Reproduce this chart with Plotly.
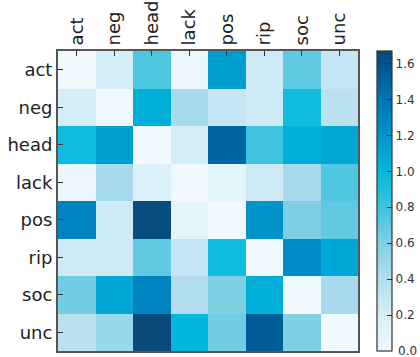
import plotly.graph_objects as go

labels = ["act", "neg", "head", "lack", "pos", "rip", "soc", "unc"]

row_act  = [0.00, 0.20, 0.75, 0.03, 1.15, 0.25, 0.70, 0.30]
row_neg  = [0.20, 0.00, 1.05, 0.45, 0.30, 0.25, 0.95, 0.35]
row_head = [0.95, 1.15, 0.00, 0.20, 1.50, 0.80, 1.05, 1.10]
row_lack = [0.03, 0.45, 0.15, 0.00, 0.10, 0.25, 0.45, 0.75]
row_pos  = [1.30, 0.25, 1.65, 0.10, 0.00, 1.20, 0.60, 0.70]
row_rip  = [0.25, 0.25, 0.70, 0.30, 0.95, 0.00, 1.25, 1.10]
row_soc  = [0.65, 1.10, 1.30, 0.40, 0.60, 1.05, 0.00, 0.45]
row_unc  = [0.35, 0.50, 1.67, 1.00, 0.65, 1.55, 0.60, 0.00]

z = [row_act, row_neg, row_head, row_lack, row_pos, row_rip, row_soc, row_unc]

zmin, zmax = 0.0, 1.67
cbar_ticks = [0.0, 0.2, 0.4, 0.6, 0.8, 1.0, 1.2, 1.4, 1.6]

stops = [
    (0.0, "#f0f9fe"), (0.2, "#d6eef8"), (0.4, "#b2ddef"), (0.6, "#80d0e4"),
    (0.8, "#3ec4de"), (1.0, "#00b8dc"), (1.2, "#0094cb"), (1.4, "#0075b6"),
    (1.6, "#00548c"), (1.67, "#0a4a7a"),
]
colorscale = [[(v - zmin) / (zmax - zmin), c] for v, c in stops]

W, H = 420, 357
ml, mt, mb, mr = 58, 51, 6, 28
pw = W - ml - mr

fig = go.Figure(go.Heatmap(
    z=z, x=labels, y=labels, zmin=zmin, zmax=zmax,
    colorscale=colorscale,
    colorbar=dict(
        x=(377 - ml) / pw, xanchor="left", xpad=0, ypad=0,
        y=1, yanchor="top", len=1, lenmode="fraction",
        thickness=15, outlinecolor="#333", outlinewidth=1.2,
        tickvals=cbar_ticks, ticktext=[f"{v:.1f}" for v in cbar_ticks],
        ticks="inside", ticklen=5, tickcolor="#333",
        tickfont=dict(family="DejaVu Sans", size=12, color="#333"),
    ),
    hoverinfo="skip",
))

# bottom colorbar label (plotly hides the label sitting exactly on the bar end)
fig.add_annotation(
    text=f"{cbar_ticks[0]:.1f}", xref="paper", yref="paper",
    x=(396 - ml) / pw, y=0, xanchor="left", yanchor="middle",
    showarrow=False, font=dict(family="DejaVu Sans", size=12, color="#333"),
)

fig.update_layout(
    width=W, height=H,
    margin=dict(l=ml, r=mr, t=mt, b=mb, autoexpand=False),
    paper_bgcolor="white", plot_bgcolor="white",
    font=dict(family="DejaVu Sans", color="#222"),
    xaxis=dict(domain=[0, 300 / pw], side="top", tickangle=-90,
               ticks="inside", ticklen=5, tickcolor="#333",
               showline=True, linecolor="#555", linewidth=2, mirror=True,
               tickfont=dict(size=18, color="#222"), showgrid=False,
               automargin=False),
    yaxis=dict(autorange="reversed", ticks="inside", ticklen=5, tickcolor="#333",
               showline=True, linecolor="#555", linewidth=2, mirror=True,
               tickfont=dict(size=18, color="#222"), showgrid=False,
               automargin=False),
)

fig.write_html("out.html", config={"displayModeBar": False},
               post_script="document.body.style.margin='0';")
